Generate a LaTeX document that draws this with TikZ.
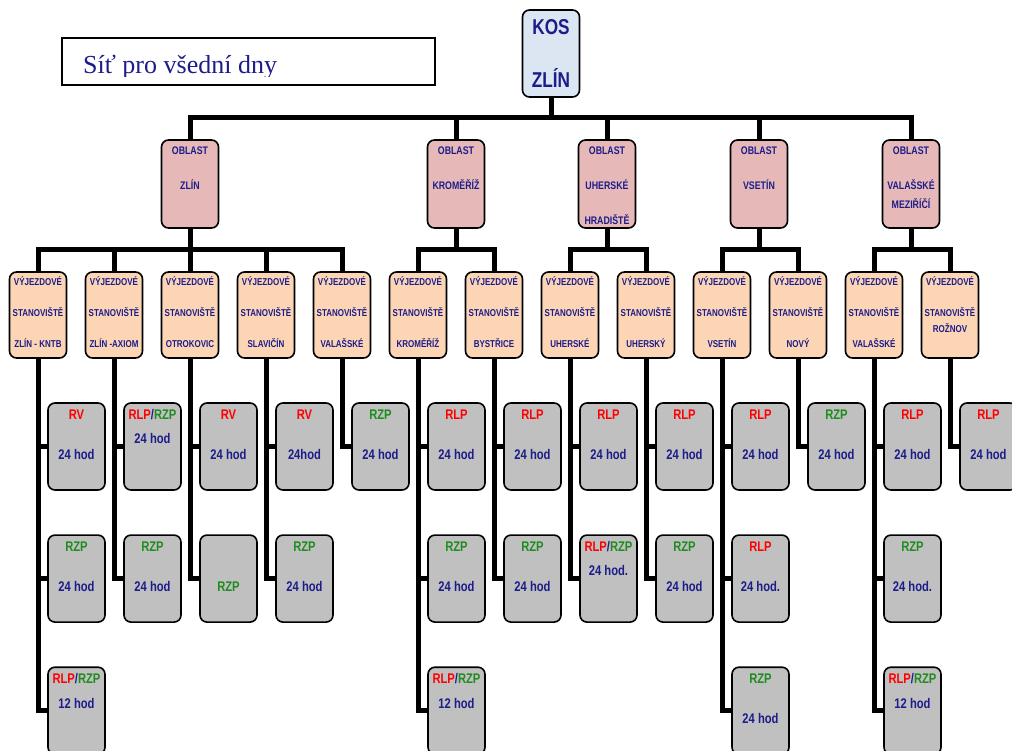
\documentclass[tikz,border=0pt]{standalone}
\usepackage{fontspec}
\newfontfamily\condsf[FakeStretch=0.8]{Liberation Sans Bold}
\newfontfamily\titlerm{Liberation Serif}
\usetikzlibrary{positioning}
\definecolor{kosnavy}{HTML}{1C1C8A}
\definecolor{kosblue}{HTML}{DCE6F2}
\definecolor{oblpink}{HTML}{E6B9B8}
\definecolor{stnpeach}{HTML}{FCD5B5}
\definecolor{cargray}{HTML}{C0C0C0}
\definecolor{rlpred}{HTML}{FF0000}
\definecolor{rzpgreen}{HTML}{1E8C1E}
\newcommand{\rd}[1]{\textcolor{rlpred}{#1}}
\newcommand{\gn}[1]{\textcolor{rzpgreen}{#1}}
\newcommand{\boxcell}[3]{\parbox[c][#1][t]{57pt}{\centering\rule{0pt}{#2}#3}}
\newcommand{\kostxt}[1]{\boxcell{87pt}{25pt}{#1}}
\newcommand{\obltxt}[1]{\boxcell{88pt}{15pt}{#1}}
\newcommand{\stntxt}[1]{\boxcell{86pt}{13.6pt}{#1}}
\newcommand{\cartxt}[1]{\boxcell{87pt}{16pt}{#1}}
\tikzset{
  card/.style={draw,line width=1.6pt,rounded corners=7pt,inner sep=0pt,text=kosnavy},
  kosbox/.style={card,fill=kosblue,font=\condsf\fontsize{21.5pt}{53pt}\selectfont},
  oblbox/.style={card,fill=oblpink,font=\condsf\fontsize{11pt}{35pt}\selectfont},
  stnbox/.style={card,fill=stnpeach,font=\condsf\fontsize{10pt}{31pt}\selectfont},
  carbox/.style={card,fill=cargray,font=\condsf\fontsize{14pt}{40pt}\selectfont},
  titlebox/.style={draw,line width=1.5pt,minimum width=373pt,minimum height=47pt,inner sep=0pt},
  titletext/.style={anchor=base west,inner sep=0pt,text=kosnavy,font=\titlerm\fontsize{26pt}{30pt}\selectfont},
  trunk/.style={line width=5pt}
}

\begin{document}
\begin{tikzpicture}[x=1pt,y=-1pt,node distance=43.5pt]
  \useasboundingbox (0,0) rectangle (1012,751);
  \clip (0,0) rectangle (1012,751);

  % title
  \node[titlebox] (title) at (248.5,61.5) {};
  \begin{scope}
    \clip (62,38) rectangle (435,77);
    \node[titletext] (titletxt) at (83,74) {Síť pro všední dny};
  \end{scope}

  % centre and areas
  \node[kosbox] (kos) at (551,53.5) {\kostxt{KOS\\ZLÍN}};
  \node[oblbox] (oZl) at (190,184) {\obltxt{OBLAST\\ZLÍN}};
  \node[oblbox] (oKm) at (456,184) {\obltxt{OBLAST\\KROMĚŘÍŽ}};
  \node[oblbox] (oUh) at (607,184) {\obltxt{OBLAST\\UHERSKÉ\\HRADIŠTĚ}};
  \node[oblbox] (oVs) at (759,184) {\obltxt{OBLAST\\VSETÍN}};
  \node[oblbox] (oVm) at (911,184) {\obltxt{OBLAST\\VALAŠSKÉ\\[-16pt]MEZIŘÍČÍ}};

  % stations
  \node[stnbox] (vZlin)  at (38,315)  {\stntxt{VÝJEZDOVÉ\\STANOVIŠTĚ\\ZLÍN - KNTB}};
  \node[stnbox] (vAxiom) at (114,315) {\stntxt{VÝJEZDOVÉ\\STANOVIŠTĚ\\ZLÍN -AXIOM}};
  \node[stnbox] (vOtr)   at (190,315) {\stntxt{VÝJEZDOVÉ\\STANOVIŠTĚ\\OTROKOVIC}};
  \node[stnbox] (vSlav)  at (266,315) {\stntxt{VÝJEZDOVÉ\\STANOVIŠTĚ\\SLAVIČÍN}};
  \node[stnbox] (vValK)  at (342,315) {\stntxt{VÝJEZDOVÉ\\STANOVIŠTĚ\\VALAŠSKÉ}};
  \node[stnbox] (vKrom)  at (418,315) {\stntxt{VÝJEZDOVÉ\\STANOVIŠTĚ\\KROMĚŘÍŽ}};
  \node[stnbox] (vByst)  at (494,315) {\stntxt{VÝJEZDOVÉ\\STANOVIŠTĚ\\BYSTŘICE}};
  \node[stnbox] (vUhH)   at (570,315) {\stntxt{VÝJEZDOVÉ\\STANOVIŠTĚ\\UHERSKÉ}};
  \node[stnbox] (vUhB)   at (646,315) {\stntxt{VÝJEZDOVÉ\\STANOVIŠTĚ\\UHERSKÝ}};
  \node[stnbox] (vVset)  at (722,315) {\stntxt{VÝJEZDOVÉ\\STANOVIŠTĚ\\VSETÍN}};
  \node[stnbox] (vNovy)  at (798,315) {\stntxt{VÝJEZDOVÉ\\STANOVIŠTĚ\\NOVÝ}};
  \node[stnbox] (vValM)  at (874,315) {\stntxt{VÝJEZDOVÉ\\STANOVIŠTĚ\\VALAŠSKÉ}};
  \node[stnbox] (vRoz)   at (950,315) {\stntxt{VÝJEZDOVÉ\\STANOVIŠTĚ\\[-15pt]ROŽNOV}};

  % crews
  \node[carbox] (rZlin1) at (76.5,446.5) {\cartxt{\rd{RV}\\24 hod}};
  \node[carbox, below=of rZlin1] (rZlin2) {\cartxt{\gn{RZP}\\24 hod}};
  \node[carbox, below=of rZlin2] (rZlin3) {\cartxt{\rd{RLP}/\gn{RZP}\\[-15pt]12 hod}};
  \node[carbox] (rAxiom1) at (152.5,446.5) {\cartxt{\rd{RLP}/\gn{RZP}\\[-16pt]24 hod}};
  \node[carbox, below=of rAxiom1] (rAxiom2) {\cartxt{\gn{RZP}\\24 hod}};
  \node[carbox] (rOtr1) at (228.5,446.5) {\cartxt{\rd{RV}\\24 hod}};
  \node[carbox, below=of rOtr1] (rOtr2) {\cartxt{\\\gn{RZP}}};
  \node[carbox] (rSlav1) at (304.5,446.5) {\cartxt{\rd{RV}\\24hod}};
  \node[carbox, below=of rSlav1] (rSlav2) {\cartxt{\gn{RZP}\\24 hod}};
  \node[carbox] (rValK1) at (380.5,446.5) {\cartxt{\gn{RZP}\\24 hod}};
  \node[carbox] (rKrom1) at (456.5,446.5) {\cartxt{\rd{RLP}\\24 hod}};
  \node[carbox, below=of rKrom1] (rKrom2) {\cartxt{\gn{RZP}\\24 hod}};
  \node[carbox, below=of rKrom2] (rKrom3) {\cartxt{\rd{RLP}/\gn{RZP}\\[-15pt]12 hod}};
  \node[carbox] (rByst1) at (532.5,446.5) {\cartxt{\rd{RLP}\\24 hod}};
  \node[carbox, below=of rByst1] (rByst2) {\cartxt{\gn{RZP}\\24 hod}};
  \node[carbox] (rUhH1) at (608.5,446.5) {\cartxt{\rd{RLP}\\24 hod}};
  \node[carbox, below=of rUhH1] (rUhH2) {\cartxt{\rd{RLP}/\gn{RZP}\\[-16pt]24 hod.}};
  \node[carbox] (rUhB1) at (684.5,446.5) {\cartxt{\rd{RLP}\\24 hod}};
  \node[carbox, below=of rUhB1] (rUhB2) {\cartxt{\gn{RZP}\\24 hod}};
  \node[carbox] (rVset1) at (760.5,446.5) {\cartxt{\rd{RLP}\\24 hod}};
  \node[carbox, below=of rVset1] (rVset2) {\cartxt{\rd{RLP}\\24 hod.}};
  \node[carbox, below=of rVset2] (rVset3) {\cartxt{\gn{RZP}\\24 hod}};
  \node[carbox] (rNovy1) at (836.5,446.5) {\cartxt{\gn{RZP}\\24 hod}};
  \node[carbox] (rValM1) at (912.5,446.5) {\cartxt{\rd{RLP}\\24 hod}};
  \node[carbox, below=of rValM1] (rValM2) {\cartxt{\gn{RZP}\\24 hod.}};
  \node[carbox, below=of rValM2] (rValM3) {\cartxt{\rd{RLP}/\gn{RZP}\\[-15pt]12 hod}};
  \node[carbox] (rRoz1) at (988.5,446.5) {\cartxt{\rd{RLP}\\24 hod}};

  % main tree
  \coordinate (bus) at (551,118);
  \coordinate (sbus) at (0,250);
  \draw[trunk] (kos.south) -- (kos.south |- bus);
  \draw[trunk] (oZl.north) |- (bus) -| (oVm.north);
  \draw[trunk] (oKm.north) -- (oKm.north |- bus);
  \draw[trunk] (oUh.north) -- (oUh.north |- bus);
  \draw[trunk] (oVs.north) -- (oVs.north |- bus);

  \draw[trunk] (vZlin.north) |- (oZl.south |- sbus) -| (vValK.north);
  \draw[trunk] (oZl.south) -- (vOtr.north);
  \draw[trunk] (vAxiom.north) -- (vAxiom.north |- sbus);
  \draw[trunk] (vSlav.north) -- (vSlav.north |- sbus);
  \draw[trunk] (oKm.south) -- (oKm.south |- sbus);
  \draw[trunk] (vKrom.north) |- (oKm.south |- sbus) -| (vByst.north);
  \draw[trunk] (oUh.south) -- (oUh.south |- sbus);
  \draw[trunk] (vUhH.north) |- (oUh.south |- sbus) -| (vUhB.north);
  \draw[trunk] (oVs.south) -- (oVs.south |- sbus);
  \draw[trunk] (vVset.north) |- (oVs.south |- sbus) -| (vNovy.north);
  \draw[trunk] (oVm.south) -- (oVm.south |- sbus);
  \draw[trunk] (vValM.north) |- (oVm.south |- sbus) -| (vRoz.north);

  % crews to stations
  \draw[trunk] (vZlin.south) |- (rZlin3.west);
  \draw[trunk] (vZlin.south |- rZlin1.west) -- (rZlin1.west);
  \draw[trunk] (vZlin.south |- rZlin2.west) -- (rZlin2.west);
  \draw[trunk] (vAxiom.south) |- (rAxiom2.west);
  \draw[trunk] (vAxiom.south |- rAxiom1.west) -- (rAxiom1.west);
  \draw[trunk] (vOtr.south) |- (rOtr2.west);
  \draw[trunk] (vOtr.south |- rOtr1.west) -- (rOtr1.west);
  \draw[trunk] (vSlav.south) |- (rSlav2.west);
  \draw[trunk] (vSlav.south |- rSlav1.west) -- (rSlav1.west);
  \draw[trunk] (vValK.south) |- (rValK1.west);
  \draw[trunk] (vKrom.south) |- (rKrom3.west);
  \draw[trunk] (vKrom.south |- rKrom1.west) -- (rKrom1.west);
  \draw[trunk] (vKrom.south |- rKrom2.west) -- (rKrom2.west);
  \draw[trunk] (vByst.south) |- (rByst2.west);
  \draw[trunk] (vByst.south |- rByst1.west) -- (rByst1.west);
  \draw[trunk] (vUhH.south) |- (rUhH2.west);
  \draw[trunk] (vUhH.south |- rUhH1.west) -- (rUhH1.west);
  \draw[trunk] (vUhB.south) |- (rUhB2.west);
  \draw[trunk] (vUhB.south |- rUhB1.west) -- (rUhB1.west);
  \draw[trunk] (vVset.south) |- (rVset3.west);
  \draw[trunk] (vVset.south |- rVset1.west) -- (rVset1.west);
  \draw[trunk] (vVset.south |- rVset2.west) -- (rVset2.west);
  \draw[trunk] (vNovy.south) |- (rNovy1.west);
  \draw[trunk] (vValM.south) |- (rValM3.west);
  \draw[trunk] (vValM.south |- rValM1.west) -- (rValM1.west);
  \draw[trunk] (vValM.south |- rValM2.west) -- (rValM2.west);
  \draw[trunk] (vRoz.south) |- (rRoz1.west);
\end{tikzpicture}
\end{document}
